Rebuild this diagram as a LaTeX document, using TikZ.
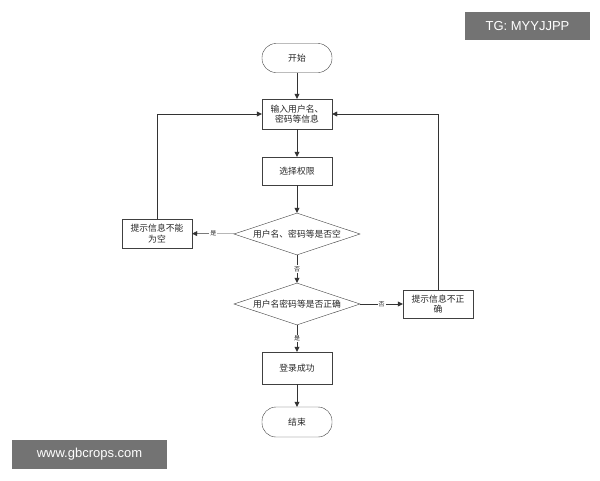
\documentclass[tikz,border=0pt]{standalone}
\usepackage{fontspec}
\setmainfont{Noto Sans CJK SC}
\setsansfont{Liberation Sans}
\usetikzlibrary{shapes.geometric,arrows.meta}
\begin{document}
\begin{tikzpicture}[x=1pt,y=-1pt,
  every node/.style={font=\fontsize{8.8}{10.5}\selectfont, align=center, text=black!85},
  term/.style={draw=black!75, rounded corners=14pt, minimum width=70pt, minimum height=29pt, inner sep=1pt},
  proc/.style={draw=black!75, minimum width=70pt, minimum height=30pt, inner sep=1pt, text width=64pt},
  dec/.style={draw=black!75, diamond, aspect=3, minimum width=126pt, minimum height=42pt, inner sep=0pt},
  lab/.style={font=\fontsize{6}{7}\selectfont, fill=white, inner sep=1pt},
  ar/.style={draw=black!80, -{Triangle[length=5pt,width=5pt]}},
  wm/.style={fill=black!55, text=white, font=\sffamily\fontsize{13}{15}\selectfont, inner sep=0pt}]
\useasboundingbox (0,0) rectangle (600,480);
\node[term] (start) at (297,58) {开始};
\node[proc] (input) at (297,114) {输入用户名、\\密码等信息};
\node[proc, minimum height=28pt] (sel) at (297,171) {选择权限};
\node[dec] (d1) at (297,234) {用户名、密码等是否空};
\node[dec] (d2) at (297,304) {用户名密码等是否正确};
\node[proc, minimum height=29pt] (empty) at (157,233.5) {提示信息不能\\为空};
\node[proc, minimum height=28pt] (wrong) at (438,304) {提示信息不正\\确};
\node[proc, minimum height=32pt] (ok) at (297,368) {登录成功};
\node[term, minimum height=30pt] (end) at (297,422) {结束};
\draw[ar] (start) -- (input);
\draw[ar] (input) -- (sel);
\draw[ar] (sel) -- (d1);
\draw[ar] (d1) -- node[lab]{是} (empty);
\draw[ar] (d1) -- node[lab]{否} (d2);
\draw[ar] (d2) -- node[lab]{否} (wrong);
\draw[ar] (d2) -- node[lab]{是} (ok);
\draw[ar] (ok) -- (end);
\draw[ar] (empty.north) |- (input.west);
\draw[ar] (wrong.north) |- (input.east);
\node[wm, minimum width=125pt, minimum height=28pt] (w1) at (527.5,26) {TG: MYYJJPP};
\node[wm, minimum width=155pt, minimum height=29pt] (w2) at (89.5,454.5) {www.gbcrops.com};
\end{tikzpicture}
\end{document}
